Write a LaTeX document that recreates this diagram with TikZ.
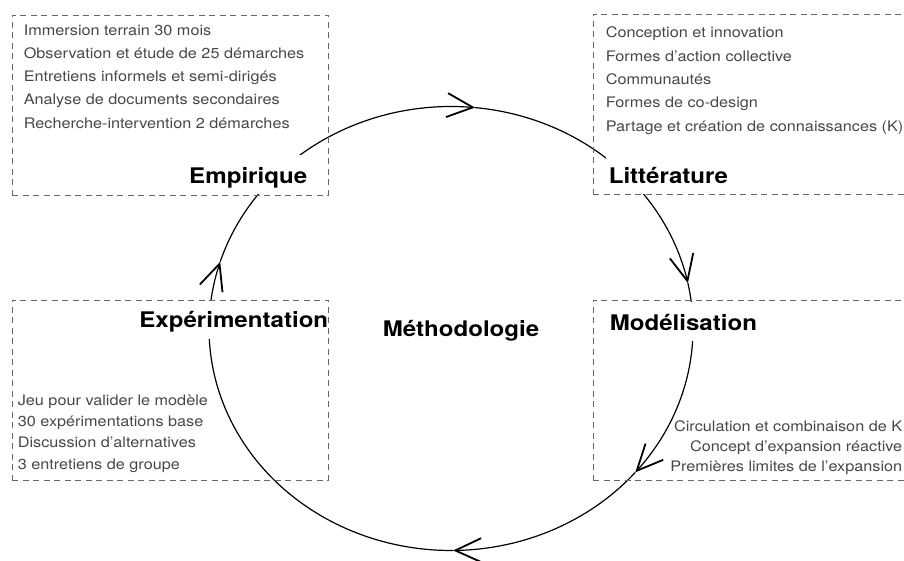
\documentclass[tikz,border=0pt]{standalone}
\usepackage{fontspec}
\setmainfont{TeX Gyre Heros}[FakeStretch=1.12]
\usetikzlibrary{positioning,arrows.meta,bending,backgrounds}

\tikzset{
  cycl/.style={line width=1.2pt, -{Straight Barb[length=26pt,width=24pt,line width=1.8pt]}},
  dbox/.style={draw=black!60, line width=0.8pt, dash pattern=on 6pt off 4.5pt,
    minimum width=316pt, minimum height=180pt, inner sep=0pt},
  stage/.style={fill=white, font=\bfseries\fontsize{21.5}{24}\selectfont,
    inner xsep=3pt, inner ysep=6.5pt, text height=21.5pt, text depth=4.5pt},
  item/.style={text=black!72, font=\fontsize{14.5}{17}\selectfont, inner sep=0pt}
}

\begin{document}
\begin{tikzpicture}[x=1pt, y=1pt]
  \useasboundingbox (0,0) rectangle (904,561);
  \clip (0,0) rectangle (904,561);
  \coordinate (c) at (451,232.5);
  \node[dbox] (empbox) at (170,456) {};
  \node[dbox] (litbox) at (751,457) {};
  \node[dbox] (expbox) at (170,171) {};
  \node[dbox] (modbox) at (751,171) {};
  \begin{scope}[on background layer]
    \foreach \s/\e in {162.5/84.3, 84.3/11.8, 11.8/-40.4, -40.4/-89.5, -89.5/-197.5}
      \draw[cycl] (c) ++(\s:242 and 222) arc[start angle=\s, end angle=\e, x radius=242, y radius=222];
    \node[stage, above left=12pt and 18pt of empbox.south east, anchor=base east] (emp) {Empirique};
    \node[stage, above right=11pt and 13pt of litbox.south west, anchor=base west] (lit) {Littérature};
    \node[stage, below right=28.3pt and 3pt of expbox.north east, anchor=base east] (exp) {Expérimentation};
    \node[stage, below right=30.7pt and 14pt of modbox.north west, anchor=base west] (mod) {Modélisation};
  \end{scope}
  \node[stage, fill=none, below right=8.5pt and 10pt of c, anchor=base] (meth) {Méthodologie};
  \foreach \t [count=\i] in {Immersion terrain 30 mois, Observation et étude de 25 démarches,
      Entretiens informels et semi-dirigés, Analyse de documents secondaires,
      Recherche-intervention 2 démarches}
    \node[item, anchor=base west] (empitem\i) at ([xshift=12pt, yshift={2.5pt-23.2pt*\i}] empbox.north west) {\t};
  \foreach \t [count=\i] in {Conception et innovation, Formes d’action collective, Communautés,
      Formes de co-design, Partage et création de connaissances (K)}
    \node[item, anchor=base west] (lititem\i) at ([xshift=13pt, yshift={-1pt-23.3pt*\i}] litbox.north west) {\t};
  \foreach \t [count=\i] in {Jeu pour valider le modèle, 30 expérimentations base,
      Discussion d’alternatives, 3 entretiens de groupe}
    \node[item, anchor=base west] (expitem\i) at ([xshift=6pt, yshift={96.3pt-21.3pt*\i}] expbox.south west) {\t};
  \foreach \t [count=\i] in {Circulation et combinaison de K, Concept d’expansion réactive,
      Premières limites de l’expansion}
    \node[item, anchor=base east] (moditem\i) at ([xshift=-7pt, yshift={68.5pt-20pt*\i}] modbox.south east) {\t};
\end{tikzpicture}
\end{document}
